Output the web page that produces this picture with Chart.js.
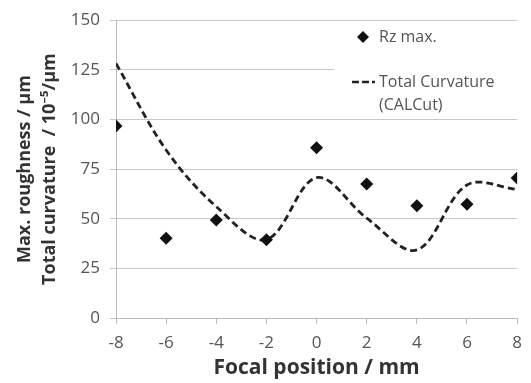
<!DOCTYPE html>
<html>
<head>
<meta charset="utf-8">
<script src="https://cdn.jsdelivr.net/npm/chart.js@4/dist/chart.umd.min.js"></script>
<style>
  html, body { margin: 0; padding: 0; background: #fff; }
  #wrap { width: 531px; height: 383px; }
</style>
</head>
<body>
<div id="wrap"><canvas id="focusChart"></canvas></div>
<script>
const focalPos = [-8, -6, -4, -2, 0, 2, 4, 6, 8];
const rzMax = [96.7, 40.2, 49.4, 39.4, 85.8, 67.5, 56.6, 57.3, 70.5];
const curvature = [128.2, 84.6, 56.1, 39.5, 70.7, 50.3, 34.3, 67, 64.8];
const yTicks = [0, 25, 50, 75, 100, 125, 150];

const FONT = '"Open Sans", "Noto Sans", sans-serif';

// legend drawn by hand, white box hides the 125 gridline behind it
const customLegend = {
  id: 'customLegend',
  afterDraw(chart) {
    const c = chart.ctx;
    c.save();
    c.fillStyle = '#fff';
    c.fillRect(334, 26, 187, 86);
    // diamond marker
    c.fillStyle = '#111';
    c.beginPath();
    c.moveTo(363, 31); c.lineTo(369, 37); c.lineTo(363, 43); c.lineTo(357, 37);
    c.closePath(); c.fill();
    // dash-dash-dot sample
    c.strokeStyle = '#222';
    c.lineWidth = 2.5;
    c.beginPath();
    c.moveTo(352, 82); c.lineTo(359, 82);
    c.moveTo(362, 82); c.lineTo(369, 82);
    c.moveTo(372, 82); c.lineTo(375, 82);
    c.stroke();
    c.fillStyle = '#555';
    c.font = '16px ' + FONT;
    c.textBaseline = 'middle';
    c.fillText('Rz max.', 379, 37);
    c.fillText('Total Curvature', 379, 82);
    c.fillText('(CALCut)', 379, 105);
    c.restore();
  }
};

new Chart(document.getElementById('focusChart'), {
  type: 'scatter',
  data: {
    datasets: [{
      label: 'Rz max.',
      data: focalPos.map((x, i) => ({ x: x, y: rzMax[i] })),
      pointStyle: 'rectRot',
      pointRadius: 6.5,
      backgroundColor: '#111',
      borderColor: '#111',
      borderWidth: 0
    }, {
      label: 'Total Curvature (CALCut)',
      data: focalPos.map((x, i) => ({ x: x, y: curvature[i] })),
      showLine: true,
      pointRadius: 0,
      borderColor: '#222',
      borderWidth: 2.8,
      borderDash: [7, 4],
      tension: 0.35,
      fill: false
    }]
  },
  options: {
    responsive: true,
    maintainAspectRatio: false,
    animation: false,
    layout: { padding: { left: 0, right: 7, top: 20, bottom: 0 } },
    plugins: {
      legend: { display: false },
      tooltip: { enabled: false }
    },
    scales: {
      x: {
        type: 'linear',
        min: -8,
        max: 8,
        afterBuildTicks: s => { s.ticks = focalPos.map(v => ({ value: v })); },
        ticks: { color: '#555', font: { family: FONT, size: 17 }, padding: 9 },
        grid: { drawOnChartArea: false, drawTicks: true, tickLength: 6, color: '#bbb' },
        border: { color: '#bbb' },
        title: {
          display: true,
          text: 'Focal position / mm',
          color: '#333',
          font: { family: FONT, size: 21, weight: 'bold', lineHeight: 1.2 },
          padding: { top: 0, bottom: 2 }
        },
        afterFit: s => { s.height = 65; }
      },
      y: {
        min: 0,
        max: 150,
        afterBuildTicks: s => { s.ticks = yTicks.map(v => ({ value: v })); },
        ticks: { color: '#555', font: { family: FONT, size: 17 }, padding: 10 },
        grid: { color: '#c8c8c8', tickLength: 6 },
        border: { color: '#bbb' },
        title: {
          display: true,
          text: ['Max. roughness / µm', 'Total curvature  / 10⁻⁵/µm'],
          color: '#333',
          font: { family: FONT, size: 18, weight: 'bold', lineHeight: 1.4 },
          padding: { top: 12, bottom: 0 }
        },
        afterFit: s => { s.width = 116; }
      }
    }
  },
  plugins: [customLegend]
});
</script>
</body>
</html>
